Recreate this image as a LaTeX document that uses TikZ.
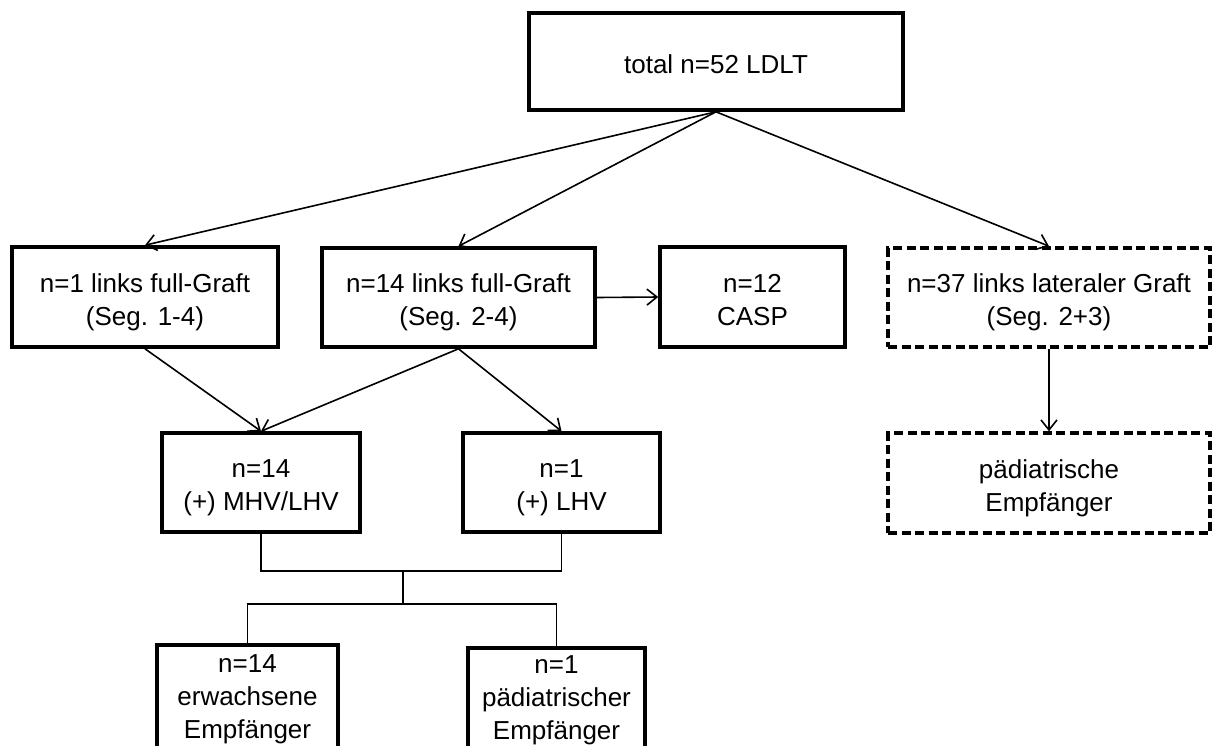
\documentclass[tikz,border=0pt]{standalone}
\usepackage{fontspec}
\setmainfont{Liberation Sans}
\usetikzlibrary{arrows.meta}
% centred lines of text, lowered a little inside their box
\newcommand\boxlines[2][5pt]{\raisebox{-#1}[\height][\depth]{\begin{tabular}{@{}c@{}}#2\end{tabular}}}
\begin{document}
\begin{tikzpicture}[x=1pt,y=-1pt,
  box/.style={draw=black, line width=3.6pt, fill=white, inner sep=0pt,
    font=\fontsize{26}{33}\selectfont, minimum width=#1},
  dbox/.style={box=#1, dash pattern=on 9pt off 4.5pt},
  conn/.style={draw=black, line width=1.6pt},
  arr/.style={conn, -{Straight Barb[length=10pt,width=16pt,line width=1.6pt]}}]
\useasboundingbox (0,0) rectangle (1215,745);
\clip (0,0) rectangle (1215,745);

% top level
\node[box=374pt, minimum height=97pt] (total) at (716,61.5) {\boxlines{total n=52 LDLT}};

% second level
\node[box=266pt, minimum height=100pt] (seg14) at (145,297) {\boxlines{n=1 links full-Graft\\(Seg. 1-4)}};
\node[box=273pt, minimum height=99pt] (seg24) at (458.5,297.5) {\boxlines{n=14 links full-Graft\\(Seg. 2-4)}};
\node[box=185pt, minimum height=100pt] (casp) at (752.5,297) {\boxlines{n=12\\CASP}};
\node[dbox=322pt, minimum height=99pt] (lat) at (1049,297.5) {\boxlines{n=37 links lateraler Graft\\(Seg. 2+3)}};

% third level
\node[box=198pt, minimum height=99pt] (mhv) at (261,482.5) {\boxlines{n=14\\(+) MHV/LHV}};
\node[box=197pt, minimum height=99pt] (lhv) at (561.5,482.5) {\boxlines{n=1\\(+) LHV}};
\node[dbox=322pt, minimum height=100pt] (paedr) at (1049,483) {\boxlines{pädiatrische\\Empfänger}};

% recipients
\node[box=181pt, minimum height=105pt] (adult) at (247.5,697.5) {\boxlines[1pt]{n=14\\erwachsene\\Empfänger}};
\node[box=177pt, minimum height=105pt] (child) at (556.5,700.5) {\boxlines[-1pt]{n=1\\pädiatrischer\\Empfänger}};

% arrows
\draw[arr] (total.south) -- (seg14.north);
\draw[arr] (total.south) -- (seg24.north);
\draw[arr] (total.south) -- (lat.north);
\draw[arr] (seg24.east) -- (casp.west);
\draw[arr] (seg14.south) -- (mhv.north);
\draw[arr] (seg24.south) -- (mhv.north);
\draw[arr] (seg24.south) -- (lhv.north);
\draw[arr] (lat.south) -- (paedr.north);

% bracket joining the two graft groups to the recipients
\coordinate (joinup) at (403,571);
\coordinate (joindown) at (403,604);
\draw[conn] (mhv.south) |- (joinup) -| (lhv.south);
\draw[conn, line width=2.2pt] (joinup) -- (joindown);
\draw[conn] (adult.north) |- (joindown) -| (child.north);
\end{tikzpicture}
\end{document}
